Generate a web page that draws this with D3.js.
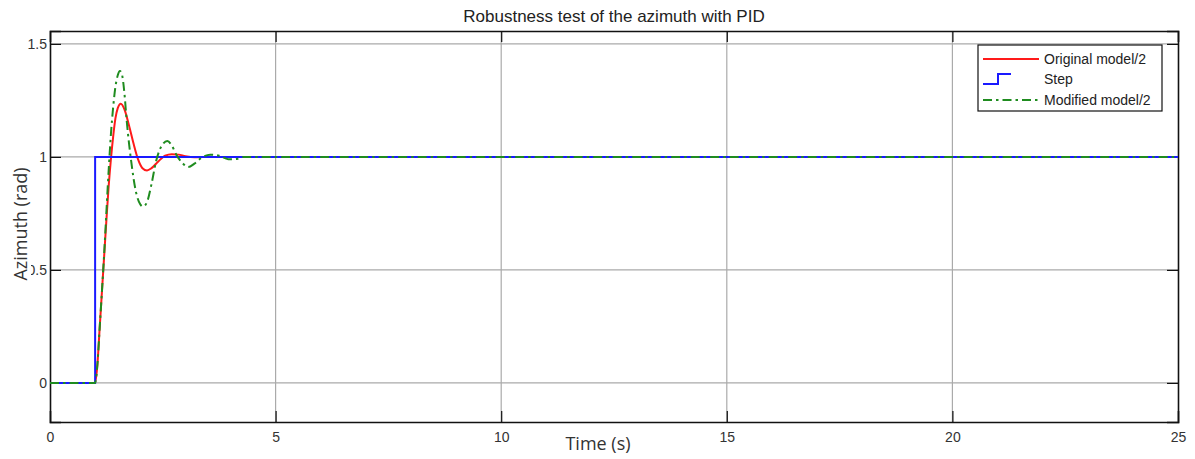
<!DOCTYPE html>
<html>
<head>
<meta charset="utf-8">
<script src="https://cdn.jsdelivr.net/npm/d3@7"></script>
<style>
  body { margin: 0; background: #fff; }
  svg { display: block; }
</style>
</head>
<body>
<svg id="chart"></svg>
<script>
// Values
var stepTime = [0, 1, 1, 25];
var stepValue = [0, 0, 1, 1];

var origTime  = [0, 1.0, 1.05, 1.1, 1.15, 1.2, 1.25, 1.3, 1.35, 1.4, 1.45, 1.5, 1.57, 1.65, 1.75, 1.85, 1.95, 2.05, 2.15, 2.25, 2.4, 2.55, 2.7, 2.85, 3.0, 3.2, 3.5, 25];
var origValue = [0, 0, 0.08, 0.24, 0.4, 0.56, 0.72, 0.87, 0.99, 1.09, 1.17, 1.215, 1.235, 1.21, 1.14, 1.06, 0.99, 0.95, 0.94, 0.95, 0.98, 1.005, 1.012, 1.01, 1.003, 0.998, 1.0, 1.0];

var modTime  = [0, 1.0, 1.05, 1.1, 1.2, 1.3, 1.35, 1.4, 1.45, 1.5, 1.55, 1.6, 1.65, 1.7, 1.8, 1.9, 2.0, 2.06, 2.15, 2.25, 2.35, 2.45, 2.6, 2.7, 2.8, 2.95, 3.06, 3.2, 3.35, 3.55, 3.75, 3.95, 4.1, 4.3, 25];
var modValue = [0, 0, 0.08, 0.24, 0.57, 0.94, 1.1, 1.22, 1.31, 1.36, 1.38, 1.36, 1.28, 1.16, 0.98, 0.85, 0.79, 0.78, 0.8, 0.88, 0.98, 1.04, 1.07, 1.05, 1.01, 0.97, 0.955, 0.97, 0.995, 1.01, 1.005, 0.99, 0.99, 1.0, 1.0];

var xTicks = [0, 5, 10, 15, 20, 25];
var yTicks = [0, 0.5, 1, 1.5];
var legendNames = ["Original model/2", "Step", "Modified model/2"];

var width = 1195, height = 459;
var margin = {left: 50, top: 31, right: 17, bottom: 37};
var plotW = width - margin.left - margin.right;
var plotH = height - margin.top - margin.bottom;

var svg = d3.select("#chart").attr("width", width).attr("height", height);

var x = d3.scaleLinear().domain([0, 25]).range([0, plotW]);
var y = d3.scaleLinear().domain([-0.173, 1.557]).range([plotH, 0]);

var g = svg.append("g")
  .attr("transform", "translate(" + margin.left + "," + margin.top + ")");

// grid lines
g.selectAll(".vgrid").data(xTicks.slice(1, -1)).enter()
  .append("line")
    .attr("x1", function(d) { return x(d); })
    .attr("x2", function(d) { return x(d); })
    .attr("y1", 0).attr("y2", plotH)
    .attr("stroke", "#aaaaaa").attr("stroke-width", 1.2);
g.selectAll(".hgrid").data(yTicks).enter()
  .append("line")
    .attr("x1", 0).attr("x2", plotW)
    .attr("y1", function(d) { return y(d); })
    .attr("y2", function(d) { return y(d); })
    .attr("stroke", "#aaaaaa").attr("stroke-width", 1.2);

// axes with inward ticks, on all four sides
var tickLen = 11;
var fmt = function(d) { return d3.format("")(d); };
var bottomAxis = g.append("g").attr("transform", "translate(0," + plotH + ")")
  .call(d3.axisBottom(x).tickValues(xTicks).tickSize(-tickLen).tickPadding(10).tickFormat(fmt));
var topAxis = g.append("g")
  .call(d3.axisTop(x).tickValues(xTicks).tickSize(-tickLen).tickFormat(""));
var leftAxis = g.append("g")
  .call(d3.axisLeft(y).tickValues(yTicks).tickSize(-tickLen).tickPadding(3).tickFormat(fmt));
var rightAxis = g.append("g").attr("transform", "translate(" + plotW + ",0)")
  .call(d3.axisRight(y).tickValues(yTicks).tickSize(-tickLen).tickFormat(""));

[bottomAxis, topAxis, leftAxis, rightAxis].forEach(function(a) {
  a.select(".domain").attr("stroke", "#111").attr("stroke-width", 1.6);
  a.selectAll(".tick line").attr("stroke", "#111").attr("stroke-width", 1.2);
  a.selectAll("text")
    .attr("font-family", "Liberation Sans, Arial, sans-serif")
    .attr("font-size", 14)
    .attr("fill", "#333");
});
// the end ticks sit on the box, hide them
bottomAxis.selectAll(".tick line").filter(function(d) { return d === 0 || d === 25; }).remove();
topAxis.selectAll(".tick line").filter(function(d) { return d === 0 || d === 25; }).remove();

// lines
var line = d3.line()
  .x(function(d) { return x(d[0]); })
  .y(function(d) { return y(d[1]); });
var smooth = d3.line()
  .x(function(d) { return x(d[0]); })
  .y(function(d) { return y(d[1]); })
  .curve(d3.curveMonotoneX);

var origPts = origTime.map(function(t, i) { return [t, origValue[i]]; });
var stepPts = stepTime.map(function(t, i) { return [t, stepValue[i]]; });
var modPts = modTime.map(function(t, i) { return [t, modValue[i]]; });

g.append("path").datum(origPts)
  .attr("d", smooth).attr("fill", "none")
  .attr("stroke", "#ff1a1a").attr("stroke-width", 2);
g.append("path").datum(stepPts)
  .attr("d", line).attr("fill", "none")
  .attr("stroke", "#1a1aff").attr("stroke-width", 2);
g.append("path").datum(modPts)
  .attr("d", smooth).attr("fill", "none")
  .attr("stroke", "#1f8c1f").attr("stroke-width", 2)
  .attr("stroke-dasharray", "9,4,2.5,4");

// title and labels
svg.append("text")
  .attr("x", 614).attr("y", 22)
  .attr("text-anchor", "middle")
  .attr("font-family", "Liberation Sans, Arial, sans-serif")
  .attr("font-size", 17)
  .attr("fill", "#222")
  .text("Robustness test of the azimuth with PID");

svg.append("text")
  .attr("x", 598).attr("y", 450)
  .attr("text-anchor", "middle")
  .attr("font-family", "Open Sans, sans-serif")
  .attr("font-size", 18)
  .attr("fill", "#333")
  .text("Time (s)");

// the label box hides part of the 0.5 tick label, as in the original
svg.append("rect")
  .attr("x", 8).attr("y", 160).attr("width", 23).attr("height", 128)
  .attr("fill", "#fff");
svg.append("text")
  .attr("transform", "translate(27,224) rotate(-90)")
  .attr("text-anchor", "middle")
  .attr("font-family", "Open Sans, sans-serif")
  .attr("font-size", 18)
  .attr("fill", "#333")
  .text("Azimuth (rad)");

// legend
var legend = svg.append("g").attr("transform", "translate(978,45)");
legend.append("rect")
  .attr("width", 184).attr("height", 66)
  .attr("fill", "#fff").attr("stroke", "#111").attr("stroke-width", 1.2);

var rowY = [14, 34, 55];
var legendColors = ["#ff1a1a", "#1a1aff", "#1f8c1f"];
legendNames.forEach(function(name, i) {
  if (i === 1) {
    legend.append("path")
      .attr("d", "M5," + (rowY[i] + 5) + "H20V" + (rowY[i] - 5) + "H33")
      .attr("fill", "none").attr("stroke", legendColors[i]).attr("stroke-width", 2);
  } else {
    legend.append("line")
      .attr("x1", 5).attr("x2", 61)
      .attr("y1", rowY[i]).attr("y2", rowY[i])
      .attr("stroke", legendColors[i]).attr("stroke-width", 2)
      .attr("stroke-dasharray", i === 2 ? "9,4,2.5,4" : null);
  }
  legend.append("text")
    .attr("x", 66).attr("y", rowY[i] + 5)
    .attr("font-family", "Liberation Sans, Arial, sans-serif")
    .attr("font-size", 14)
    .attr("fill", "#222")
    .text(name);
});
</script>
</body>
</html>
